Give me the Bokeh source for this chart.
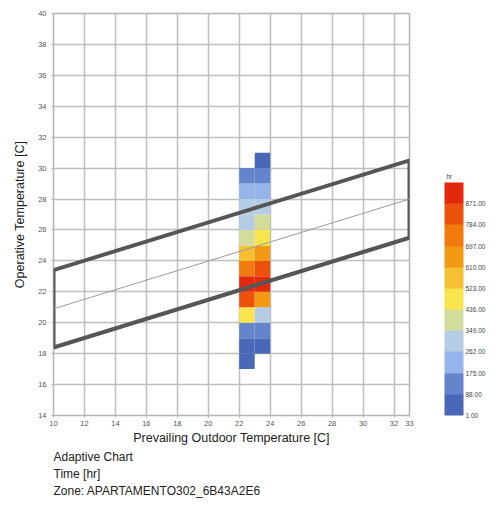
from bokeh.plotting import figure
from bokeh.models import (ColumnDataSource, LinearColorMapper, ColorBar, FixedTicker,
                          PrintfTickFormatter, Title, Range1d, LinearAxis)
from bokeh.transform import transform
from bokeh.embed import file_html
from bokeh.resources import INLINE

# ---------------- data ----------------
x_ticks = [10, 12, 14, 16, 18, 20, 22, 24, 26, 28, 30, 32, 33]
y_ticks = [14, 16, 18, 20, 22, 24, 26, 28, 30, 32, 34, 36, 38, 40]

# heat-map bins: prevailing outdoor temp (bin centre), operative temp (bin centre), hours
outdoor_bin = [22.5] * 13 + [23.5] * 13
operative_bin = [17.5, 18.5, 19.5, 20.5, 21.5, 22.5, 23.5, 24.5, 25.5, 26.5, 27.5, 28.5, 29.5,
                 18.5, 19.5, 20.5, 21.5, 22.5, 23.5, 24.5, 25.5, 26.5, 27.5, 28.5, 29.5, 30.5]
hours = [30, 60, 120, 470, 800, 900, 720, 560, 380, 300, 280, 200, 110,
         50, 130, 280, 650, 920, 820, 640, 480, 360, 290, 190, 140, 70]

# colour-bar classes
bar_ticks = [1, 88, 175, 262, 349, 436, 523, 610, 697, 784, 871]
palette = ["#4a68b8", "#6484cc", "#94b4ea", "#b4cce4", "#d4dc9c", "#f8e44c",
           "#f6c034", "#f29a14", "#f07a0c", "#ec520c", "#e4280c"]
bar_unit = "hr"

# adaptive comfort band (90% acceptability) and neutral line
comfort_x = [10, 33]
comfort_lower = [18.4, 25.5]
comfort_upper = [23.4, 30.5]
comfort_mid = [20.9, 28.0]

# ---------------- figure ----------------
FONT = "Liberation Sans"
p = figure(frame_width=356, frame_height=402, output_backend="svg", toolbar_location=None,
           x_range=Range1d(10, 33), y_range=Range1d(14, 40),
           min_border_left=53, min_border_top=13, min_border_right=10, min_border_bottom=0,
           background_fill_color="white", border_fill_color="white")
p.outline_line_color = "#b4b4b4"
p.outline_line_width = 1.5

for ax in (p.xaxis[0], p.yaxis[0]):
    ax.axis_line_color = None
    ax.major_tick_line_color = "#b4b4b4"
    ax.major_tick_out = 2
    ax.major_tick_in = 0
    ax.minor_tick_line_color = None
    ax.major_label_text_font = FONT
    ax.major_label_text_font_size = "7.5px"
    ax.major_label_text_color = "#555555"
    ax.axis_label_text_font = FONT
    ax.axis_label_text_font_size = "12.5px"
    ax.axis_label_text_font_style = "normal"
    ax.axis_label_text_color = "#222222"

p.xaxis.ticker = FixedTicker(ticks=x_ticks)
p.yaxis.ticker = FixedTicker(ticks=y_ticks)
p.xaxis.axis_label = "Prevailing Outdoor Temperature [C]"
p.yaxis.axis_label = "Operative Temperature [C]"
p.xaxis.major_label_standoff = 3
p.yaxis.major_label_standoff = 5
p.xaxis.axis_label_standoff = 2
p.yaxis.axis_label_standoff = 8

p.xgrid.ticker = FixedTicker(ticks=x_ticks)
p.ygrid.ticker = FixedTicker(ticks=y_ticks)
for g in (p.xgrid[0], p.ygrid[0]):
    g.grid_line_color = "#bebebe"
    g.grid_line_width = 1.5

mapper = LinearColorMapper(palette=palette, low=bar_ticks[0],
                           high=bar_ticks[-1] + (bar_ticks[1] - bar_ticks[0]))

src = ColumnDataSource(dict(x=outdoor_bin, y=operative_bin, h=hours))
p.rect(x="x", y="y", width=1, height=1, source=src,
       fill_color=transform("h", mapper), line_color=None)

# comfort band polygon
poly_x = [comfort_x[0], comfort_x[0], comfort_x[1], comfort_x[1], comfort_x[0]]
poly_y = [comfort_lower[0], comfort_upper[0], comfort_upper[1], comfort_lower[1], comfort_lower[0]]
p.line(poly_x, poly_y, line_color="#565656", line_width=4, line_join="miter")
p.line(comfort_x, comfort_mid, line_color="#9a9a9a", line_width=1)

# unit caption of the colour bar, drawn as a single horizontal tick label on a right axis
unit_axis = LinearAxis(ticker=FixedTicker(ticks=[29.45]),
                       major_label_overrides={29.45: bar_unit},
                       axis_line_color=None, major_tick_line_color=None,
                       minor_tick_line_color=None, major_label_standoff=31,
                       major_label_text_font=FONT, major_label_text_font_size="6.5px",
                       major_label_text_color="#444444")
p.add_layout(unit_axis, "right")

cb = ColorBar(color_mapper=mapper, ticker=FixedTicker(ticks=bar_ticks),
              formatter=PrintfTickFormatter(format="%.2f"),
              orientation="vertical",
              width=19, height=233,
              major_label_text_font=FONT, major_label_text_font_size="6.5px",
              major_label_text_color="#444444", label_standoff=2,
              major_tick_line_color=None, bar_line_color=None,
              background_fill_color=None, border_line_color=None,
              padding=0, margin=0, location=(-11, 0))
p.add_layout(cb, "right")

for txt in ["Adaptive Chart", "Time [hr]", "Zone: APARTAMENTO302_6B43A2E6"]:
    p.add_layout(Title(text=txt, align="left", text_font=FONT, text_font_size="12px",
                       text_font_style="normal", text_color="#222222", standoff=1), "below")

open("out.html", "w").write(file_html(p, INLINE))
